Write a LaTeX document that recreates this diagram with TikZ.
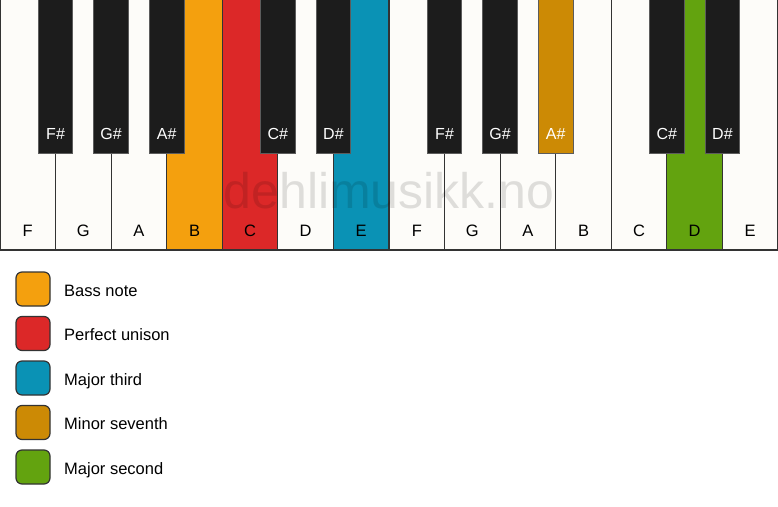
\documentclass[tikz,border=0pt]{standalone}
\usepackage{fontspec}
\setmainfont{Liberation Sans}
\definecolor{wkey}{HTML}{FDFCF9}
\definecolor{bkey}{HTML}{1C1C1C}
\definecolor{edge}{HTML}{333333}
\definecolor{cbass}{HTML}{F4A00E}
\definecolor{cunis}{HTML}{DC2828}
\definecolor{cthird}{HTML}{0A92B5}
\definecolor{cseventh}{HTML}{CC8A05}
\definecolor{csecond}{HTML}{63A30F}
\begin{document}
\begin{tikzpicture}[x=1pt,y=-1pt,
  whitekey/.style={draw=edge,line width=1.2pt,fill=wkey},
  blackkey/.style={draw=edge!80,line width=1pt,fill=bkey},
  wlabel/.style={font=\fontsize{16.5}{19}\selectfont,text=black,anchor=base},
  blabel/.style={font=\fontsize{16}{19}\selectfont,text=white,anchor=base},
  legbox/.style={draw=edge,line width=1.2pt,rounded corners=6pt,minimum width=34pt,minimum height=34pt,inner sep=0pt},
  legtext/.style={font=\fontsize{16.5}{19}\selectfont,anchor=base west,inner sep=0pt}]
\useasboundingbox (0,0) rectangle (778,506);
\pgfmathsetmacro{\kw}{778/14}
% white keys
\foreach \i/\n/\c in {0/F/wkey,1/G/wkey,2/A/wkey,3/B/cbass,4/C/cunis,5/D/wkey,6/E/cthird,7/F/wkey,8/G/wkey,9/A/wkey,10/B/wkey,11/C/wkey,12/D/csecond,13/E/wkey}{
  \draw[whitekey,fill=\c] ({\i*\kw},-2) rectangle ({(\i+1)*\kw},250);
  \node[wlabel] (w\i) at ({(\i+0.5)*\kw},236.5) {\n};
}
% watermark
\node[font=\fontsize{50}{60}\selectfont,text=black,text opacity=0.12,anchor=base] (wm) at (389,208) {dehlimusikk.no};
% black keys
\foreach \b/\n/\c in {1/F\#/bkey,2/G\#/bkey,3/A\#/bkey,5/C\#/bkey,6/D\#/bkey,8/F\#/bkey,9/G\#/bkey,10/A\#/cseventh,12/C\#/bkey,13/D\#/bkey}{
  \draw[blackkey,fill=\c] ({\b*\kw-17.3},-2) rectangle ({\b*\kw+17.3},153);
  \node[blabel] (b\b) at ({\b*\kw},139.5) {\n};
}
% legend
\foreach \k/\c/\t in {0/cbass/Bass note,1/cunis/Perfect unison,2/cthird/Major third,3/cseventh/Minor seventh,4/csecond/Major second}{
  \node[legbox,fill=\c] (lb\k) at (33,{289+\k*44.5}) {};
  \node[legtext] (lt\k) at (64,{296+\k*44.5}) {\t};
}
\end{tikzpicture}
\end{document}
